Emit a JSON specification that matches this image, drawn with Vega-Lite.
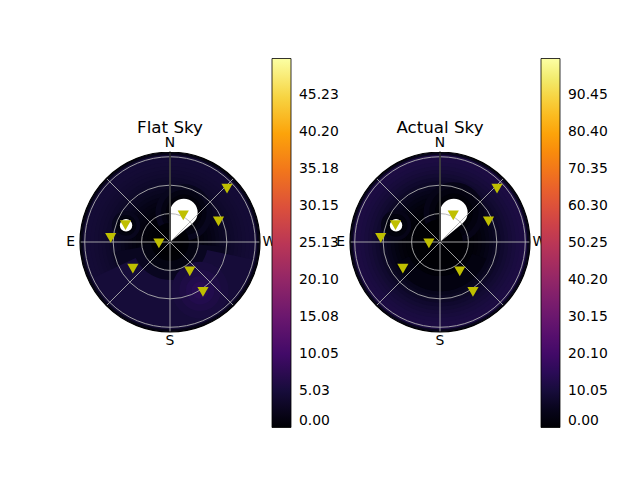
{
  "$schema": "https://vega.github.io/schema/vega-lite/v6.json",
  "padding": {"left": 66, "top": 58, "right": 5, "bottom": 5},
  "datasets": {
    "flat": [
      {"x": 0, "y": 0, "a0": 0, "a1": 360, "r0": 0, "r1": 95, "v": 2.0},
      {"x": 0, "y": 0, "a0": 0, "a1": 360, "r0": 0, "r1": 92, "v": 4.52},
      {"x": 0, "y": 0, "a0": 0, "a1": 360, "r0": 0, "r1": 88, "v": 4.62},
      {"x": 0, "y": 0, "a0": 0, "a1": 360, "r0": 0, "r1": 84, "v": 4.52},
      {"x": 0, "y": 0, "a0": 0, "a1": 360, "r0": 0, "r1": 80, "v": 4.4},
      {"x": 0, "y": 0, "a0": 0, "a1": 360, "r0": 0, "r1": 76, "v": 4.25},
      {"x": 0, "y": 0, "a0": 0, "a1": 360, "r0": 0, "r1": 72, "v": 4.05},
      {"x": 0, "y": 0, "a0": 0, "a1": 360, "r0": 0, "r1": 68, "v": 3.85},
      {"x": 0, "y": 0, "a0": 0, "a1": 360, "r0": 0, "r1": 64, "v": 3.6},
      {"x": 0, "y": 0, "a0": 0, "a1": 360, "r0": 0, "r1": 60, "v": 3.3},
      {"x": 0, "y": 0, "a0": 0, "a1": 360, "r0": 0, "r1": 56, "v": 2.95},
      {"x": 0, "y": 0, "a0": 0, "a1": 360, "r0": 0, "r1": 52, "v": 2.55},
      {"x": 0, "y": 0, "a0": 0, "a1": 360, "r0": 0, "r1": 48, "v": 2.15},
      {"x": 0, "y": 0, "a0": 0, "a1": 360, "r0": 0, "r1": 44, "v": 1.8},
      {"x": 0, "y": 0, "a0": 0, "a1": 360, "r0": 0, "r1": 40, "v": 1.45},
      {"x": 0, "y": 0, "a0": 0, "a1": 360, "r0": 0, "r1": 36, "v": 1.1},
      {"x": 0, "y": 0, "a0": 0, "a1": 360, "r0": 0, "r1": 32, "v": 0.8},
      {"x": 0, "y": 0, "a0": 0, "a1": 360, "r0": 0, "r1": 28, "v": 0.55},
      {"x": 0, "y": 0, "a0": 0, "a1": 360, "r0": 0, "r1": 24, "v": 0.33},
      {"x": 0, "y": 0, "a0": 95, "a1": 270, "r0": 18, "r1": 34, "v": 1.4},
      {"x": 0, "y": 0, "a0": 100, "a1": 265, "r0": 30, "r1": 62, "v": 2.8},
      {"x": 0, "y": 0, "a0": 115, "a1": 258, "r0": 40, "r1": 89, "v": 4.9},
      {"x": 31.8, "y": -50.9, "a0": 0, "a1": 360, "r0": 0, "r1": 30, "v": 5.3},
      {"x": 31.8, "y": -50.9, "a0": 0, "a1": 360, "r0": 0, "r1": 22, "v": 5.9},
      {"x": 31.8, "y": -50.9, "a0": 0, "a1": 360, "r0": 0, "r1": 15, "v": 6.5},
      {"x": 31.8, "y": -50.9, "a0": 0, "a1": 360, "r0": 0, "r1": 9, "v": 7.1},
      {"x": 31.8, "y": -50.9, "a0": 0, "a1": 360, "r0": 0, "r1": 4, "v": 7.5},
      {"x": 14.6, "y": 31.1, "a0": 0, "a1": 360, "r0": 0, "r1": 30, "v": 2.6},
      {"x": 14.6, "y": 31.1, "a0": 0, "a1": 360, "r0": 0, "r1": 24, "v": 1.6},
      {"x": 14.6, "y": 31.1, "a0": 0, "a1": 360, "r0": 0, "r1": 19, "v": 0.7},
      {"x": 14.6, "y": 31.1, "a0": 0, "a1": 360, "r0": 0, "r1": 15.5, "v": 0.2},
      {"x": -46.4, "y": 17.6, "a0": 0, "a1": 360, "r0": 0, "r1": 15, "v": 2.6},
      {"x": -46.4, "y": 17.6, "a0": 0, "a1": 360, "r0": 0, "r1": 11, "v": 1.4},
      {"x": -46.4, "y": 17.6, "a0": 0, "a1": 360, "r0": 0, "r1": 8, "v": 0.4},
      {"x": 0, "y": 0, "a0": 0, "a1": 360, "r0": 0, "r1": 20, "v": 0.17},
      {"x": 0, "y": 0, "a0": 0, "a1": 360, "r0": 0, "r1": 14, "v": 0.05}
    ],
    "actual": [
      {"x": 0, "y": 0, "a0": 0, "a1": 360, "r0": 0, "r1": 95, "v": 5.0},
      {"x": 0, "y": 0, "a0": 0, "a1": 360, "r0": 0, "r1": 92, "v": 11.6},
      {"x": 0, "y": 0, "a0": 0, "a1": 360, "r0": 0, "r1": 88, "v": 11.3},
      {"x": 0, "y": 0, "a0": 0, "a1": 360, "r0": 0, "r1": 84, "v": 10.9},
      {"x": 0, "y": 0, "a0": 0, "a1": 360, "r0": 0, "r1": 80, "v": 10.3},
      {"x": 0, "y": 0, "a0": 0, "a1": 360, "r0": 0, "r1": 76, "v": 9.6},
      {"x": 0, "y": 0, "a0": 0, "a1": 360, "r0": 0, "r1": 72, "v": 8.8},
      {"x": 0, "y": 0, "a0": 0, "a1": 360, "r0": 0, "r1": 68, "v": 7.9},
      {"x": 0, "y": 0, "a0": 0, "a1": 360, "r0": 0, "r1": 64, "v": 6.9},
      {"x": 0, "y": 0, "a0": 0, "a1": 360, "r0": 0, "r1": 60, "v": 5.8},
      {"x": 0, "y": 0, "a0": 0, "a1": 360, "r0": 0, "r1": 56, "v": 4.8},
      {"x": 0, "y": 0, "a0": 0, "a1": 360, "r0": 0, "r1": 52, "v": 3.8},
      {"x": 0, "y": 0, "a0": 0, "a1": 360, "r0": 0, "r1": 48, "v": 2.9},
      {"x": 0, "y": 0, "a0": 0, "a1": 360, "r0": 0, "r1": 44, "v": 2.1},
      {"x": 0, "y": 0, "a0": 0, "a1": 360, "r0": 0, "r1": 40, "v": 1.4},
      {"x": 0, "y": 0, "a0": 0, "a1": 360, "r0": 0, "r1": 36, "v": 0.8},
      {"x": 0, "y": 0, "a0": 0, "a1": 360, "r0": 0, "r1": 32, "v": 0.4},
      {"x": 0, "y": 0, "a0": 0, "a1": 360, "r0": 0, "r1": 28, "v": 0.15},
      {"x": 0, "y": 0, "a0": 115, "a1": 250, "r0": 36, "r1": 52, "v": 2.6},
      {"x": 14.6, "y": 31.1, "a0": 0, "a1": 360, "r0": 0, "r1": 32, "v": 4.0},
      {"x": 14.6, "y": 31.1, "a0": 0, "a1": 360, "r0": 0, "r1": 26, "v": 2.4},
      {"x": 14.6, "y": 31.1, "a0": 0, "a1": 360, "r0": 0, "r1": 20, "v": 1.0},
      {"x": 14.6, "y": 31.1, "a0": 0, "a1": 360, "r0": 0, "r1": 16, "v": 0.3},
      {"x": -46.4, "y": 17.6, "a0": 0, "a1": 360, "r0": 0, "r1": 16, "v": 4.0},
      {"x": -46.4, "y": 17.6, "a0": 0, "a1": 360, "r0": 0, "r1": 12, "v": 2.0},
      {"x": -46.4, "y": 17.6, "a0": 0, "a1": 360, "r0": 0, "r1": 8, "v": 0.6},
      {"x": 0, "y": 0, "a0": 0, "a1": 360, "r0": 0, "r1": 24, "v": 0.1}
    ],
    "wedge": [{"a0": 309.7, "a1": 360, "r0": 0, "r1": 31.1}],
    "blobs": [
      {"x": 14.6, "y": 31.1, "r": 14.6},
      {"x": -46.4, "y": 17.6, "r": 6.6}
    ],
    "rings": [{"r": 30}, {"r": 60}, {"r": 90}],
    "spokes": [
      {"x": 0, "y": -95, "x2": 0, "y2": 95},
      {"x": -95, "y": 0, "x2": 95, "y2": 0},
      {"x": -67.18, "y": -67.18, "x2": 67.18, "y2": 67.18},
      {"x": -67.18, "y": 67.18, "x2": 67.18, "y2": -67.18}
    ],
    "compass": [
      {"t": "N", "x": 0, "y": 105},
      {"t": "E", "x": -105, "y": 0},
      {"t": "S", "x": 0, "y": -105},
      {"t": "W", "x": 105, "y": 0}
    ],
    "sats": [
      {"x": 60.2, "y": 56.3},
      {"x": 14.0, "y": 28.1},
      {"x": 51.2, "y": 21.7},
      {"x": -47.0, "y": 17.9},
      {"x": -62.6, "y": 4.3},
      {"x": -11.7, "y": -1.5},
      {"x": -39.2, "y": -28.2},
      {"x": 20.9, "y": -31.0},
      {"x": 34.8, "y": -52.6}
    ]
  },
  "hconcat": [
    {
      "width": 180,
      "height": 180,
      "title": {"text": "Flat Sky", "fontSize": 16.7, "fontWeight": "normal", "color": "black", "offset": 14, "dy": 92},
      "layer": [
        {
          "data": {"name": "flat"},
          "mark": {"type": "arc"},
          "encoding": {
            "x": {"field": "x", "type": "quantitative", "axis": null, "scale": {"domain": [-95, 95], "nice": false, "zero": false}},
            "y": {"field": "y", "type": "quantitative", "axis": null, "scale": {"domain": [-95, 95], "nice": false, "zero": false}},
            "theta": {"field": "a0", "type": "quantitative", "stack": null, "scale": {"domain": [0, 360], "range": [6.283185, 0]}},
            "theta2": {"field": "a1"},
            "radius": {"field": "r1", "type": "quantitative", "stack": null, "scale": {"type": "linear", "domain": [0, 95], "range": [0, 90], "zero": true}},
            "radius2": {"field": "r0"},
            "color": {
              "field": "v",
              "type": "quantitative",
              "scale": {"scheme": "inferno", "domain": [0, 50.255]},
              "legend": {
                "title": null,
                "orient": "none",
                "legendX": 192,
                "legendY": -93.5,
                "direction": "vertical",
                "gradientLength": 369,
                "gradientThickness": 19,
                "gradientStrokeColor": "black",
                "gradientStrokeWidth": 0.8,
                "values": [0, 5.0255, 10.051, 15.0765, 20.102, 25.1275, 30.153, 35.1785, 40.204, 45.2295],
                "format": ".2f",
                "labelFontSize": 13.9,
                "labelColor": "black",
                "labelOffset": 8,
                "labelOverlap": false,
                "labelBaseline": "middle"
              }
            }
          }
        },
        {
          "data": {"name": "wedge"},
          "mark": {"type": "arc", "color": "white"},
          "encoding": {
            "theta": {"field": "a0", "type": "quantitative", "stack": null},
            "theta2": {"field": "a1"},
            "radius": {"field": "r1", "type": "quantitative", "stack": null},
            "radius2": {"field": "r0"}
          }
        },
        {
          "data": {"name": "blobs"},
          "mark": {"type": "arc", "color": "white"},
          "encoding": {
            "x": {"field": "x", "type": "quantitative", "axis": null},
            "y": {"field": "y", "type": "quantitative", "axis": null},
            "theta": {"datum": 0, "type": "quantitative"},
            "theta2": {"datum": 360},
            "radius": {"field": "r", "type": "quantitative", "stack": null}
          }
        },
        {
          "data": {"name": "rings"},
          "mark": {"type": "arc", "filled": false, "stroke": "#b0b0b0", "strokeWidth": 0.9},
          "encoding": {
            "theta": {"datum": 0, "type": "quantitative"},
            "theta2": {"datum": 360},
            "radius": {"field": "r", "type": "quantitative", "stack": null}
          }
        },
        {
          "data": {"name": "spokes"},
          "mark": {"type": "rule", "color": "#b0b0b0", "strokeWidth": 0.9},
          "encoding": {
            "x": {"field": "x", "type": "quantitative", "axis": null},
            "y": {"field": "y", "type": "quantitative", "axis": null},
            "x2": {"field": "x2"},
            "y2": {"field": "y2"}
          }
        },
        {
          "data": {"values": [{"r": 95}]},
          "mark": {"type": "arc", "filled": false, "stroke": "black", "strokeWidth": 1.2},
          "encoding": {
            "theta": {"datum": 0, "type": "quantitative"},
            "theta2": {"datum": 360},
            "radius": {"field": "r", "type": "quantitative", "stack": null}
          }
        },
        {
          "data": {"name": "compass"},
          "mark": {"type": "text", "fontSize": 13.9, "color": "black", "align": "center", "baseline": "middle"},
          "encoding": {
            "x": {"field": "x", "type": "quantitative", "axis": null},
            "y": {"field": "y", "type": "quantitative", "axis": null},
            "text": {"field": "t"}
          }
        },
        {
          "data": {"name": "sats"},
          "mark": {"type": "point", "shape": "triangle-down", "filled": true, "size": 125, "color": "#bfbf00", "opacity": 1},
          "encoding": {
            "x": {"field": "x", "type": "quantitative", "axis": null},
            "y": {"field": "y", "type": "quantitative", "axis": null}
          }
        }
      ]
    },
    {
      "width": 180,
      "height": 180,
      "title": {"text": "Actual Sky", "fontSize": 16.7, "fontWeight": "normal", "color": "black", "offset": 14, "dy": 92},
      "layer": [
        {
          "data": {"name": "actual"},
          "mark": {"type": "arc"},
          "encoding": {
            "x": {"field": "x", "type": "quantitative", "axis": null, "scale": {"domain": [-95, 95], "nice": false, "zero": false}},
            "y": {"field": "y", "type": "quantitative", "axis": null, "scale": {"domain": [-95, 95], "nice": false, "zero": false}},
            "theta": {"field": "a0", "type": "quantitative", "stack": null, "scale": {"domain": [0, 360], "range": [6.283185, 0]}},
            "theta2": {"field": "a1"},
            "radius": {"field": "r1", "type": "quantitative", "stack": null, "scale": {"type": "linear", "domain": [0, 95], "range": [0, 90], "zero": true}},
            "radius2": {"field": "r0"},
            "color": {
              "field": "v",
              "type": "quantitative",
              "scale": {"scheme": "inferno", "domain": [0, 100.505]},
              "legend": {
                "title": null,
                "orient": "none",
                "legendX": 191,
                "legendY": -93.5,
                "direction": "vertical",
                "gradientLength": 369,
                "gradientThickness": 19,
                "gradientStrokeColor": "black",
                "gradientStrokeWidth": 0.8,
                "values": [0, 10.0505, 20.101, 30.1515, 40.202, 50.2525, 60.303, 70.3535, 80.404, 90.4545],
                "format": ".2f",
                "labelFontSize": 13.9,
                "labelColor": "black",
                "labelOffset": 8,
                "labelOverlap": false,
                "labelBaseline": "middle"
              }
            }
          }
        },
        {
          "data": {"name": "wedge"},
          "mark": {"type": "arc", "color": "white"},
          "encoding": {
            "theta": {"field": "a0", "type": "quantitative", "stack": null},
            "theta2": {"field": "a1"},
            "radius": {"field": "r1", "type": "quantitative", "stack": null},
            "radius2": {"field": "r0"}
          }
        },
        {
          "data": {"name": "blobs"},
          "mark": {"type": "arc", "color": "white"},
          "encoding": {
            "x": {"field": "x", "type": "quantitative", "axis": null},
            "y": {"field": "y", "type": "quantitative", "axis": null},
            "theta": {"datum": 0, "type": "quantitative"},
            "theta2": {"datum": 360},
            "radius": {"field": "r", "type": "quantitative", "stack": null}
          }
        },
        {
          "data": {"name": "rings"},
          "mark": {"type": "arc", "filled": false, "stroke": "#b0b0b0", "strokeWidth": 0.9},
          "encoding": {
            "theta": {"datum": 0, "type": "quantitative"},
            "theta2": {"datum": 360},
            "radius": {"field": "r", "type": "quantitative", "stack": null}
          }
        },
        {
          "data": {"name": "spokes"},
          "mark": {"type": "rule", "color": "#b0b0b0", "strokeWidth": 0.9},
          "encoding": {
            "x": {"field": "x", "type": "quantitative", "axis": null},
            "y": {"field": "y", "type": "quantitative", "axis": null},
            "x2": {"field": "x2"},
            "y2": {"field": "y2"}
          }
        },
        {
          "data": {"values": [{"r": 95}]},
          "mark": {"type": "arc", "filled": false, "stroke": "black", "strokeWidth": 1.2},
          "encoding": {
            "theta": {"datum": 0, "type": "quantitative"},
            "theta2": {"datum": 360},
            "radius": {"field": "r", "type": "quantitative", "stack": null}
          }
        },
        {
          "data": {"name": "compass"},
          "mark": {"type": "text", "fontSize": 13.9, "color": "black", "align": "center", "baseline": "middle"},
          "encoding": {
            "x": {"field": "x", "type": "quantitative", "axis": null},
            "y": {"field": "y", "type": "quantitative", "axis": null},
            "text": {"field": "t"}
          }
        },
        {
          "data": {"name": "sats"},
          "mark": {"type": "point", "shape": "triangle-down", "filled": true, "size": 125, "color": "#bfbf00", "opacity": 1},
          "encoding": {
            "x": {"field": "x", "type": "quantitative", "axis": null},
            "y": {"field": "y", "type": "quantitative", "axis": null}
          }
        }
      ]
    }
  ],
  "spacing": 90,
  "bounds": "flush",
  "resolve": {"scale": {"color": "independent"}, "legend": {"color": "independent"}},
  "config": {
    "view": {"stroke": null},
    "font": "DejaVu Sans"
  }
}
